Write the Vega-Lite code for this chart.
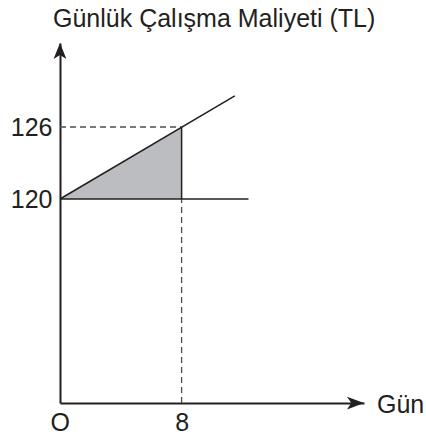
{
  "$schema": "https://vega.github.io/schema/vega-lite/v6.json",
  "autosize": "none",
  "width": 304,
  "height": 360,
  "padding": {"left": 60, "top": 43, "right": 62, "bottom": 37},
  "background": "white",
  "config": {"view": {"stroke": null}, "font": "Liberation Sans"},
  "title": {"text": "Günlük Çalışma Maliyeti (TL)", "anchor": "start", "frame": "group", "dx": -7, "dy": 26, "offset": 12, "baseline": "bottom", "fontSize": 25, "fontWeight": "normal", "font": "Liberation Sans", "color": "#231f20"},
  "datasets": {
    "tri": [{"gun": 0, "tl": 120, "tl2": 120}, {"gun": 8, "tl": 126, "tl2": 120}],
    "lines": [
      {"kind": "dash", "gun": 0, "gun2": 8, "tl": 126, "tl2": 126},
      {"kind": "dash", "gun": 8, "gun2": 8, "tl": 103, "tl2": 120},
      {"kind": "solid", "gun": 8, "gun2": 8, "tl": 120, "tl2": 126},
      {"kind": "solid", "gun": 0, "gun2": 12.4, "tl": 120, "tl2": 120},
      {"kind": "cost", "gun": 0, "gun2": 11.5, "tl": 120, "tl2": 128.6}
    ],
    "arrows": [
      {"dir": "x", "gun": 20, "tl": 103},
      {"dir": "y", "gun": 0, "tl": 133}
    ],
    "labels": [
      {"text": "Gün", "gun": 20, "tl": 103}
    ]
  },
  "layer": [
    {
      "data": {"name": "tri"},
      "mark": {"type": "area", "color": "#bcbdc0", "opacity": 1},
      "encoding": {
        "x": {"field": "gun", "type": "quantitative", "scale": {"domain": [0, 20], "nice": false, "zero": false},
          "axis": {"values": [0, 8], "title": null, "grid": false, "ticks": false, "labelPadding": 7, "labelFontSize": 25, "labelColor": "#231f20", "labelFont": "Liberation Sans", "domainColor": "#231f20", "domainWidth": 2,
            "labelExpr": "datum.value == 0 ? 'O' : datum.label",
            "labelOffset": {"condition": {"test": "datum.value == 0", "value": -10}, "value": 0}}},
        "y": {"field": "tl", "type": "quantitative", "scale": {"domain": [103, 133], "nice": false, "zero": false},
          "axis": {"values": [120, 126], "title": null, "grid": false, "ticks": false, "labelPadding": 8, "labelFontSize": 25, "labelColor": "#231f20", "labelFont": "Liberation Sans", "domainColor": "#231f20", "domainWidth": 2}},
        "y2": {"field": "tl2"}
      }
    },
    {
      "data": {"name": "lines"},
      "transform": [{"filter": "datum.kind == 'dash'"}],
      "mark": {"type": "rule", "color": "#4d4d4f", "strokeWidth": 1.3, "strokeDash": [6, 4]},
      "encoding": {
        "x": {"field": "gun", "type": "quantitative"},
        "x2": {"field": "gun2"},
        "y": {"field": "tl", "type": "quantitative"},
        "y2": {"field": "tl2"}
      }
    },
    {
      "data": {"name": "lines"},
      "transform": [{"filter": "datum.kind != 'dash'"}],
      "mark": {"type": "rule", "color": "#231f20", "strokeWidth": 1.5},
      "encoding": {
        "x": {"field": "gun", "type": "quantitative"},
        "x2": {"field": "gun2"},
        "y": {"field": "tl", "type": "quantitative"},
        "y2": {"field": "tl2"},
        "strokeWidth": {"condition": {"test": "datum.kind == 'cost'", "value": 1.8}, "value": 1.3}
      }
    },
    {
      "data": {"name": "arrows"},
      "transform": [{"filter": "datum.dir == 'x'"}],
      "mark": {"type": "point", "filled": true, "color": "#231f20", "opacity": 1, "size": 289, "shape": "M0,0 L-2,-0.75 L-1.5,0 L-2,0.75 Z"},
      "encoding": {
        "x": {"field": "gun", "type": "quantitative"},
        "y": {"field": "tl", "type": "quantitative"}
      }
    },
    {
      "data": {"name": "arrows"},
      "transform": [{"filter": "datum.dir == 'y'"}],
      "mark": {"type": "point", "filled": true, "color": "#231f20", "opacity": 1, "size": 256, "shape": "M0,0 L-0.8,2 L0,1.5 L0.8,2 Z"},
      "encoding": {
        "x": {"field": "gun", "type": "quantitative"},
        "y": {"field": "tl", "type": "quantitative"}
      }
    },
    {
      "data": {"name": "labels"},
      "mark": {"type": "text", "align": "left", "baseline": "middle", "dx": 13, "dy": 2, "fontSize": 25, "font": "Liberation Sans", "color": "#231f20"},
      "encoding": {
        "x": {"field": "gun", "type": "quantitative"},
        "y": {"field": "tl", "type": "quantitative"},
        "text": {"field": "text"}
      }
    }
  ]
}
